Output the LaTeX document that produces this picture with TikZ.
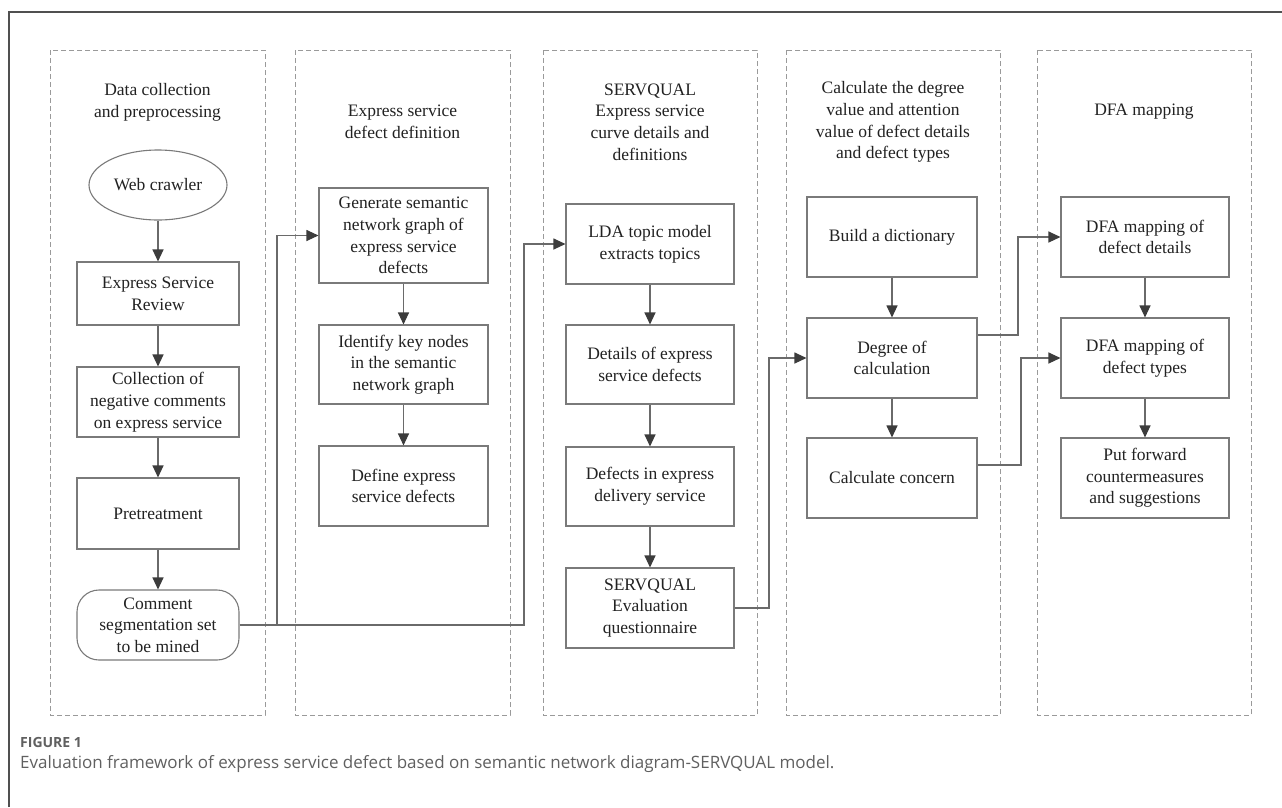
\documentclass[tikz,border=0pt]{standalone}
\usepackage{fontspec}
\setmainfont{Liberation Serif}
\newfontfamily\capfont{Open Sans}
\usetikzlibrary{arrows.meta,shapes.geometric}
\definecolor{boxline}{HTML}{7A7A7A}
\definecolor{dashc}{HTML}{9A9A9A}
\definecolor{linec}{HTML}{6A6A6A}
\definecolor{tipc}{HTML}{3C3C3C}
\definecolor{framec}{HTML}{505050}
\definecolor{capc}{HTML}{606060}
\definecolor{txt}{HTML}{222222}
\begin{document}
\begin{tikzpicture}[x=1pt,y=-1pt,
  every node/.style={font=\fontsize{17.5}{21.7}\selectfont, text=txt},
  box/.style={draw=boxline, line width=1.1pt, align=center, inner sep=0pt},
  colbox/.style={draw=dashc, line width=0.9pt, dash pattern=on 5pt off 3pt},
  arr/.style={draw=linec, line width=1.1pt, -{Triangle[length=12pt,width=11pt,fill=tipc,color=tipc]}},
  ttl/.style={align=center, inner sep=0pt},
  c1box/.style={box, minimum width=162pt},
  c2box/.style={box, minimum width=169pt},
  c3box/.style={box, minimum width=168pt},
  c4box/.style={box, minimum width=170pt},
  c5box/.style={box, minimum width=168pt}]
\useasboundingbox (0,0) rectangle (1282,807);
\fill[white] (0,0) rectangle (1282,807);
% outer frame
\draw[framec, line width=1.4pt] (9,807) -- (9,12) -- (1282,12);
% columns
\draw[colbox] (50,50) rectangle (265,715);
\draw[colbox] (295,50) rectangle (510,715);
\draw[colbox] (543,50) rectangle (757,715);
\draw[colbox] (786,50) rectangle (1000,715);
\draw[colbox] (1037,50) rectangle (1251,715);
% titles
\node[ttl] (t1) at (157.5,102) {Data collection\\and preprocessing};
\node[ttl] (t2) at (402.5,122) {Express service\\defect definition};
\node[ttl] (t3) at (650,122) {SERVQUAL\\Express service\\curve details and\\definitions};
\node[ttl] (t4) at (893,122) {Calculate the degree\\value and attention\\value of defect details\\and defect types};
\node[ttl] (t5) at (1144,112) {DFA mapping};
% column 1
\node[ellipse, draw=boxline, line width=1.1pt, minimum width=138pt, minimum height=70pt, inner sep=0pt] (web) at (158,185) {Web crawler};
\node[c1box, minimum height=63pt] (review) at (158,293.5) {Express Service\\Review};
\node[c1box, minimum height=70pt] (collect) at (158,402) {Collection of\\negative comments\\on express service};
\node[c1box, minimum height=71pt] (pre) at (158,513.5) {Pretreatment};
\node[c1box, minimum height=70pt, rounded corners=22pt] (comment) at (158,625) {Comment\\segmentation set\\to be mined};
% column 2
\node[c2box, minimum height=95pt] (gen) at (403.5,235.5) {Generate semantic\\network graph of\\express service\\defects};
\node[c2box, minimum height=79pt] (ident) at (403.5,364.5) {Identify key nodes\\in the semantic\\network graph};
\node[c2box, minimum height=80pt] (define) at (403.5,486) {Define express\\service defects};
% column 3
\node[c3box, minimum height=80pt] (lda) at (650,244) {LDA topic model\\extracts topics};
\node[c3box, minimum height=79pt] (details) at (650,364.5) {Details of express\\service defects};
\node[c3box, minimum height=79pt] (defects) at (650,486.5) {Defects in express\\delivery service};
\node[c3box, minimum height=80pt] (sq) at (650,608) {SERVQUAL\\Evaluation\\questionnaire};
% column 4
\node[c4box, minimum height=80pt] (dict) at (892,237) {Build a dictionary};
\node[c4box, minimum height=80pt] (degree) at (892,358) {Degree of\\calculation};
\node[c4box, minimum height=80pt] (concern) at (892,478) {Calculate concern};
% column 5
\node[c5box, minimum height=80pt] (dfa1) at (1145,237) {DFA mapping of\\defect details};
\node[c5box, minimum height=80pt] (dfa2) at (1145,358) {DFA mapping of\\defect types};
\node[c5box, minimum height=80pt] (put) at (1145,478) {Put forward\\countermeasures\\and suggestions};
% vertical arrows
\draw[arr] (web) -- (review);
\draw[arr] (review) -- (collect);
\draw[arr] (collect) -- (pre);
\draw[arr] (pre) -- (comment);
\draw[arr] (gen) -- (ident);
\draw[arr] (ident) -- (define);
\draw[arr] (lda) -- (details);
\draw[arr] (details) -- (defects);
\draw[arr] (defects) -- (sq);
\draw[arr] (dict) -- (degree);
\draw[arr] (degree) -- (concern);
\draw[arr] (dfa1) -- (dfa2);
\draw[arr] (dfa2) -- (put);
% cross-column connectors
\coordinate (j1) at (277,625);
\coordinate (j2) at (524,625);
\coordinate (j3) at (769,608);
\coordinate (j4) at (1018,335);
\coordinate (j5) at (1021,465);
\draw[arr] (comment.east) -- (j1) |- (gen.west);
\draw[arr] (j1) -- (j2) |- (lda.west);
\draw[arr] (sq.east) -- (j3) |- (degree.west);
\draw[arr] ([yshift=23pt]degree.east) -- (j4) |- (dfa1.west);
\draw[arr] ([yshift=13pt]concern.east) -- (j5) |- (dfa2.west);
% caption
\node[anchor=base west, inner sep=0pt, font=\capfont\fontsize{14}{16}\selectfont\bfseries, text=capc] (fig) at (20,747) {FIGURE 1};
\node[anchor=base west, inner sep=0pt, font=\capfont\fontsize{17}{20}\selectfont, text=capc] (cap) at (20,768) {Evaluation framework of express service defect based on semantic network diagram-SERVQUAL model.};
\end{tikzpicture}
\end{document}
